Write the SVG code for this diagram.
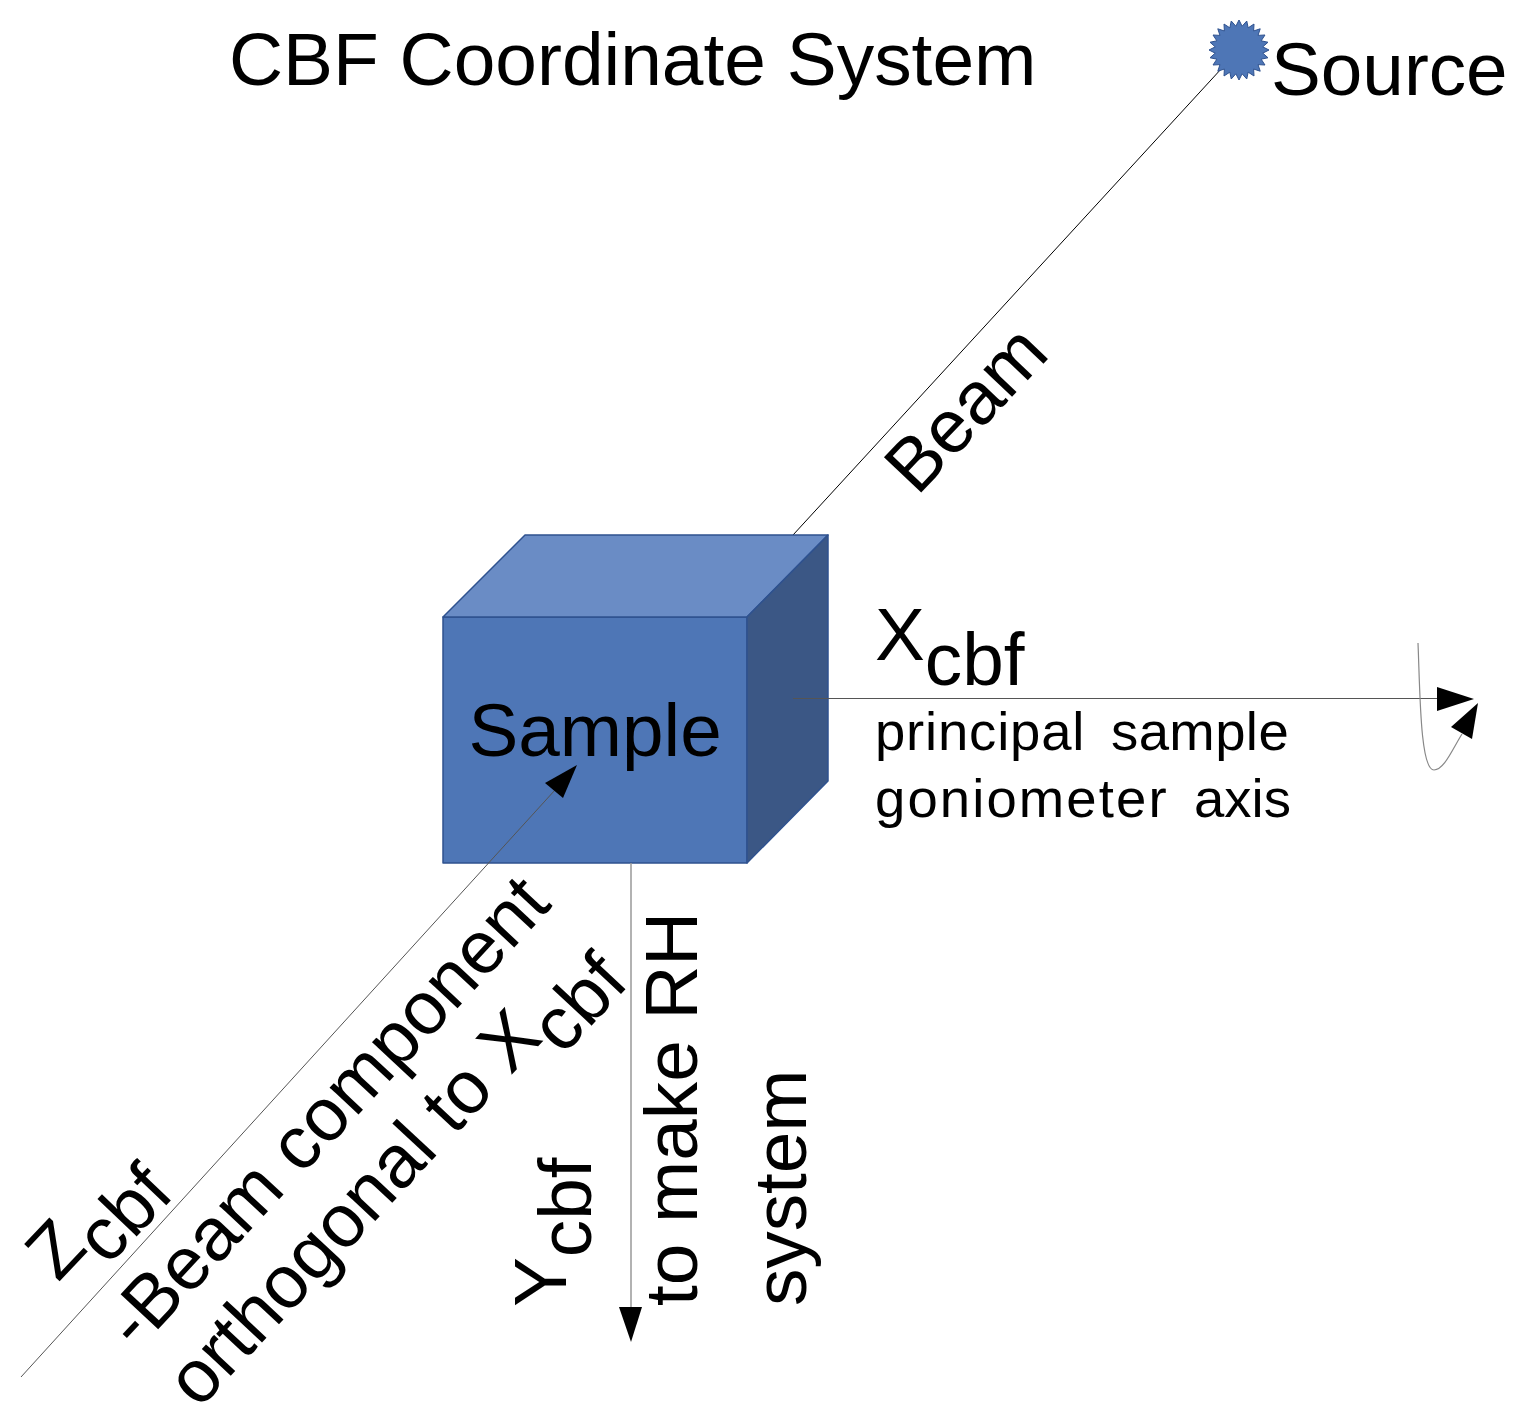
<svg xmlns="http://www.w3.org/2000/svg" width="1525" height="1423" viewBox="0 0 1525 1423">
<style>
text{font-family:"Liberation Sans",Arial,sans-serif;font-size:74.7px;fill:#000}
.small{font-size:54.5px}
.face{stroke:#2f528f;stroke-width:1.5;stroke-linejoin:round}
.line{fill:none;stroke:#000;stroke-width:1}
.thin{fill:none;stroke:#555;stroke-width:1}
.curve{fill:none;stroke:#888;stroke-width:1.2}
</style>
<rect width="1525" height="1423" fill="#fff"/>
<g id="connector-beam-back"><line class="line" x1="793" y1="535" x2="1222" y2="68"/></g>
<g id="sample">
<polygon class="face" fill="#4e76b6" points="443,617 747,617 747,863 443,863"/>
<polygon class="face" fill="#6a8cc5" points="443,617 525,535 828,535 747,617"/>
<polygon class="face" fill="#3b5785" points="747,617 828,535 828,781 747,863"/>
<text x="468.500" y="756">Sample</text>
</g>
<g id="source">
<polygon transform="translate(1239,50)" fill="#4e76b6" stroke="#2f528f" stroke-width="1" points="30,0 23.79,3.13 28.98,7.76 22.17,9.18 25.98,15 19.04,14.61 21.21,21.21 14.61,19.04 15,25.98 9.18,22.17 7.76,28.98 3.13,23.79 0,30 -3.13,23.79 -7.76,28.98 -9.18,22.17 -15,25.98 -14.61,19.04 -21.21,21.21 -19.04,14.61 -25.98,15 -22.17,9.18 -28.98,7.76 -23.79,3.13 -30,0 -23.79,-3.13 -28.98,-7.76 -22.17,-9.18 -25.98,-15 -19.04,-14.61 -21.21,-21.21 -14.61,-19.04 -15,-25.98 -9.18,-22.17 -7.76,-28.98 -3.13,-23.79 0,-30 3.13,-23.79 7.76,-28.98 9.18,-22.17 15,-25.98 14.61,-19.04 21.21,-21.21 19.04,-14.61 25.98,-15 22.17,-9.18 28.98,-7.76 23.79,-3.13"/>
<text x="1271" y="95">Source</text>
</g>
<g id="connectors">
<line class="thin" x1="793" y1="698.5" x2="1440" y2="698.5"/>
<polygon points="1437,687 1474,699 1437,711"/>
<path class="curve" d="M1418,643C1420,690 1420,770 1434,770C1444,770 1452,750 1462,734"/>
<polygon points="1478,703 1451,727 1472,739"/>
<line class="thin" x1="21" y1="1377" x2="555" y2="790"/>
<polygon points="577,765 545,783 563,798"/>
<line x1="631" y1="863" x2="631" y2="1310" stroke="#999" stroke-width="1.5"/>
<polygon points="619,1307 642,1307 631,1342"/>
</g>
<g id="labels">
<text x="229" y="85" style="font-size:74.900px">CBF Coordinate System</text>
<text transform="translate(917,497) rotate(-46.500)">Beam</text>
<text x="875" y="660">X<tspan dy="25">cbf</tspan></text>
<text class="small" y="750"><tspan x="875" letter-spacing="0.800">principal</tspan><tspan x="1111" letter-spacing="0.400">sample</tspan></text>
<text class="small" y="817"><tspan x="875" letter-spacing="2.100">goniometer</tspan><tspan x="1194" letter-spacing="0">axis</tspan></text>
<text transform="translate(58,1283) rotate(-46.500)">Z<tspan dy="25">cbf</tspan></text>
<text transform="translate(137,1352) rotate(-47)">-Beam component</text>
<text transform="translate(199,1410) rotate(-47)">orthogonal to X<tspan dy="25">cbf</tspan></text>
<text transform="translate(566,1307) rotate(-90)">Y<tspan dy="25">cbf</tspan></text>
<text transform="translate(697,1306) rotate(-90)">to make RH</text>
<text transform="translate(806,1306) rotate(-90)">system</text>
</g>
</svg>
